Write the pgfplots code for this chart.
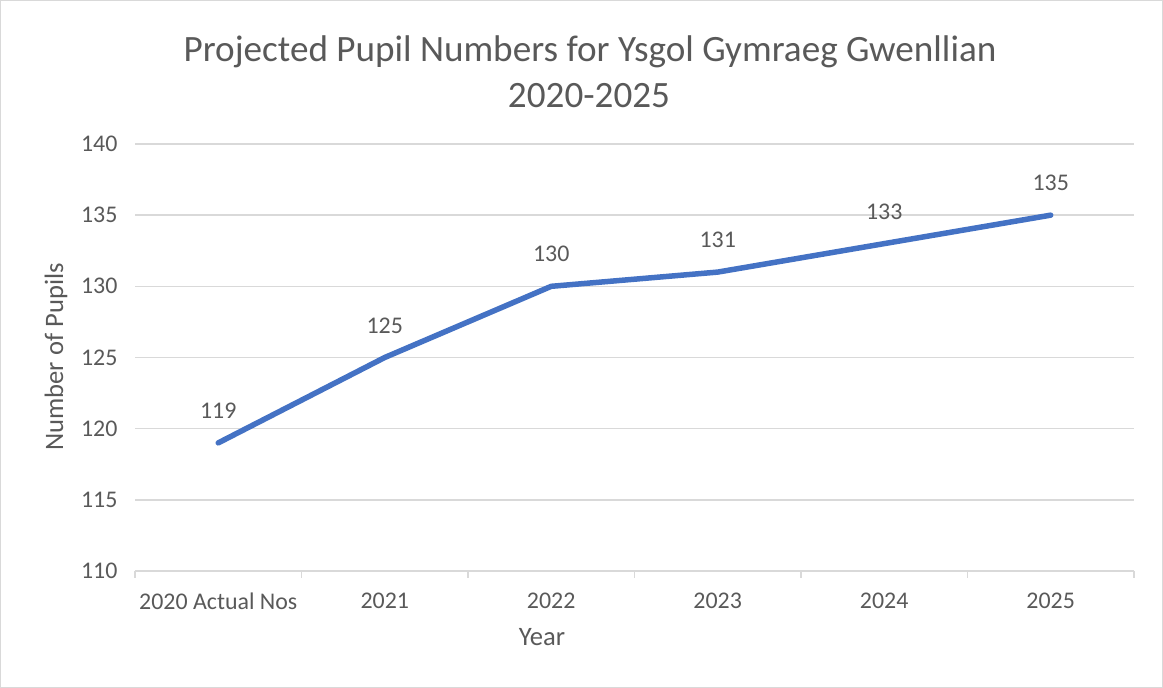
\documentclass[border=0pt]{standalone}
\usepackage{fontspec}
\setmainfont{Carlito}
\usepackage{pgfplots}
\pgfplotsset{compat=1.18}
\definecolor{txt}{HTML}{595959}
\definecolor{grd}{HTML}{D9D9D9}
\definecolor{ln}{HTML}{4472C4}
\begin{document}
\begin{tikzpicture}[x=1bp,y=1bp]
\useasboundingbox (0,0) rectangle (1163,688);
\draw[grd, line width=1.2bp] (0.6,0.6) rectangle (1162.4,687.4);
\begin{axis}[at={(135bp,117bp)}, anchor=south west, scale only axis,
  width=999bp, height=427bp,
  xmin=-0.5, xmax=5.5, ymin=110, ymax=140,
  ytick={110,115,...,140},
  xtick={0,...,5},
  xticklabels={2020 Actual Nos,2021,2022,2023,2024,2025},
  minor xtick={-0.5,0.5,...,5.5},
  axis line style={draw=none},
  tick pos=left, tick align=outside,
  major tick length=0pt, minor tick length=7bp,
  minor tick style={grd, line width=1.5bp},
  ymajorgrids, major grid style={grd, line width=1.5bp},
  tick label style={font=\fontsize{24}{28}\selectfont, text=txt},
  /pgf/number format/assume math mode=true,
  yticklabel style={xshift=-14bp},
  xticklabel style={yshift=-18bp},
  clip=false]
\addplot[ln, line width=5.5bp, line cap=round, line join=round,
  nodes near coords,
  every node near coord/.append style={font=\fontsize{24}{28}\selectfont, text=txt, anchor=center, yshift=32bp}]
  coordinates {(0,119) (1,125) (2,130) (3,131) (4,133) (5,135)};
\end{axis}
\node[anchor=base, text=txt, font=\fontsize{37.3}{44}\selectfont] at (590,626) {Projected Pupil Numbers for Ysgol Gymraeg Gwenllian};
\node[anchor=base, text=txt, font=\fontsize{37.3}{44}\selectfont] at (589,580) {2020-2025};
\node[anchor=base, text=txt, font=\fontsize{26.7}{32}\selectfont] at (542,42) {Year};
\node[anchor=base, rotate=90, text=txt, font=\fontsize{26.7}{32}\selectfont] at (63,331) {Number of Pupils};
\end{tikzpicture}
\end{document}
